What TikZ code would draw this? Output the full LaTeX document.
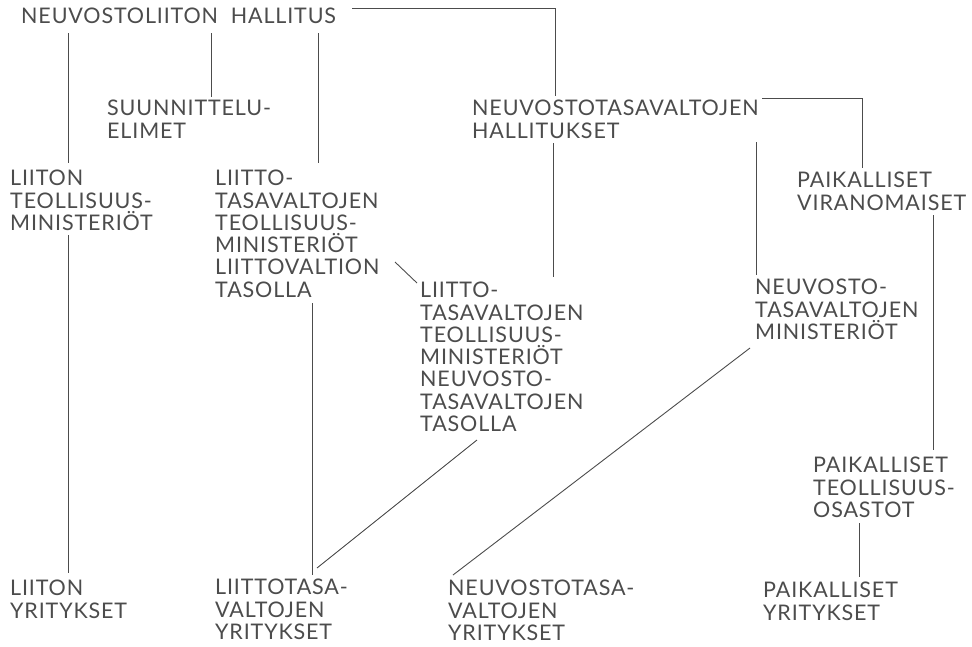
\documentclass[tikz,border=0pt]{standalone}
\usepackage{fontspec}
\newfontfamily\chartfont{Lato}[LetterSpace=4]
\usepackage{tikz}
\usetikzlibrary{positioning}

\definecolor{inkgray}{gray}{0.3}

\begin{document}
\begin{tikzpicture}[
    x = 1pt, y = -1pt, % one unit is one pixel of the chart, y runs downwards
    link/.style = {draw = inkgray, line width = 0.9pt}, % connector style
    box/.style = {anchor = north west, inner sep = 0pt, align = left,
                  text = inkgray, font = \chartfont\fontsize{21.5}{22.3}\selectfont}
    ]
    \useasboundingbox (0,0) rectangle (972,646);

    % top level
    \node[box] (gov)      at (21,8)    {NEUVOSTOLIITON\ \ HALLITUS};
    \node[box] (plan)     at (107,100) {SUUNNITTELU-\\ELIMET};
    \node[box] (repgov)   at (472,100) {NEUVOSTOTASAVALTOJEN\\HALLITUKSET};

    % ministries
    \node[box] (unmin)    at (10,170)  {LIITON\\TEOLLISUUS-\\MINISTERIÖT};
    \node[box] (repmin1)  at (215,170) {LIITTO-\\TASAVALTOJEN\\TEOLLISUUS-\\MINISTERIÖT\\LIITTOVALTION\\TASOLLA};
    \node[box] (local)    at (797,172) {PAIKALLISET\\VIRANOMAISET};
    \node[box] (repmin2)  at (420,282) {LIITTO-\\TASAVALTOJEN\\TEOLLISUUS-\\MINISTERIÖT\\NEUVOSTO-\\TASAVALTOJEN\\TASOLLA};
    \node[box] (sovmin)   at (755,279) {NEUVOSTO-\\TASAVALTOJEN\\MINISTERIÖT};
    \node[box] (localind) at (813,457) {PAIKALLISET\\TEOLLISUUS-\\OSASTOT};

    % enterprises
    \node[box] (unent)    at (10,580)  {LIITON\\YRITYKSET};
    \node[box] (repent)   at (215,579) {LIITTOTASA-\\VALTOJEN\\YRITYKSET};
    \node[box] (sovent)   at (448,580) {NEUVOSTOTASA-\\VALTOJEN\\YRITYKSET};
    \node[box] (localent) at (763,582) {PAIKALLISET\\YRITYKSET};

    \path[link] ([shift={(47,25)}]gov.north west) edge ([shift={(58,-7)}]unmin.north west);
    \path[link] ([shift={(58,65)}]unmin.north west) edge ([shift={(58,-7)}]unent.north west);
    \path[link] ([shift={(190,25)}]gov.north west) edge ([shift={(104,-3)}]plan.north west);
    \path[link] ([shift={(297,25)}]gov.north west) edge ([shift={(103,-7)}]repmin1.north west);
    \draw[link] ([shift={(331,0)}]gov.north west) -| ([shift={(83,-4)}]repgov.north west);
    \draw[link] ([shift={(290,-2)}]repgov.north west) -| ([shift={(65,-4)}]local.north west);
    \path[link] ([shift={(81,43)}]repgov.north west) edge ([shift={(133,-5)}]repmin2.north west);
    \path[link] ([shift={(284,42)}]repgov.north west) edge ([shift={(1,-4)}]sovmin.north west);
    \path[link] ([shift={(180,92)}]repmin1.north west) edge ([shift={(-3,1)}]repmin2.north west);
    \path[link] ([shift={(97,133)}]repmin1.north west) edge ([shift={(97,-4)}]repent.north west);
    \path[link] ([shift={(57,158)}]repmin2.north west) edge ([shift={(102,-11)}]repent.north west);
    \path[link] ([shift={(-5,69)}]sovmin.north west) edge ([shift={(5,-5)}]sovent.north west);
    \path[link] ([shift={(136,43)}]local.north west) edge ([shift={(120,-7)}]localind.north west);
    \path[link] ([shift={(46,66)}]localind.north west) edge ([shift={(96,-5)}]localent.north west);
\end{tikzpicture}
\end{document}
